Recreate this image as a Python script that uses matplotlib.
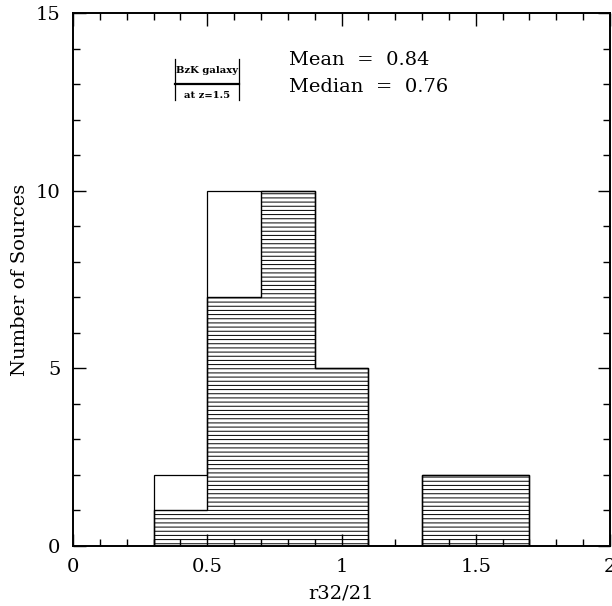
import numpy as np
import matplotlib
matplotlib.use('Agg')
import matplotlib.pyplot as plt
from matplotlib.ticker import MultipleLocator

# bin edges and counts in r32/21
edges = [0.3, 0.5, 0.7, 0.9, 1.1, 1.3, 1.5, 1.7]
all_counts = [2, 10, 10, 5, 0, 2, 2]
hatched_counts = [1, 7, 10, 5, 0, 2, 2]

mean_val = 0.84
median_val = 0.76
bzk_x = [0.38, 0.62]
bzk_y = 13.0

plt.rcParams['font.family'] = ['DejaVu Serif']
plt.rcParams['hatch.linewidth'] = 0.7

fig = plt.figure(figsize=(6.12, 6.06), dpi=100)
ax = fig.add_axes([73 / 612, 60 / 606, 537 / 612, 533 / 606])

ax.stairs(hatched_counts, edges, fill=True, facecolor='white', edgecolor='black',
          hatch='----', linewidth=1.0)
ax.stairs(all_counts, edges, color='black', linewidth=0.9)

ax.set_xlim(0, 2)
ax.set_ylim(0, 15)
ax.xaxis.set_major_locator(MultipleLocator(0.5))
ax.xaxis.set_minor_locator(MultipleLocator(0.1))
ax.yaxis.set_major_locator(MultipleLocator(5))
ax.yaxis.set_minor_locator(MultipleLocator(1))
ax.xaxis.set_major_formatter(plt.FuncFormatter(lambda v, p: f'{v:g}'))
ax.tick_params(which='both', direction='in', top=True, right=True, labelsize=14, width=1.0)
ax.tick_params(which='major', length=9)
ax.tick_params(which='minor', length=5)
ax.tick_params(axis='x', pad=9)
ax.tick_params(axis='y', pad=9)
for s in ax.spines.values():
    s.set_linewidth(1.4)

ax.set_xlabel('r32/21', fontsize=14, labelpad=6)
ax.set_ylabel('Number of Sources', fontsize=14, labelpad=5)

# BzK galaxy marker
ax.plot(bzk_x, [bzk_y, bzk_y], color='black', linewidth=1.6)
for xv in bzk_x:
    ax.plot([xv, xv], [bzk_y - 0.45, bzk_y + 0.7], color='black', linewidth=0.9)
ax.text(sum(bzk_x) / 2, bzk_y + 0.25, 'BzK galaxy', fontsize=7.2, fontweight='bold',
        ha='center', va='bottom')
ax.text(sum(bzk_x) / 2, bzk_y - 0.2, 'at z=1.5', fontsize=7.2, fontweight='bold',
        ha='center', va='top')

ax.text(0.805, 13.68, f'Mean  =  {mean_val:.2f}', fontsize=14, va='center')
ax.text(0.805, 12.93, f'Median  =  {median_val:.2f}', fontsize=14, va='center')

fig.savefig('out.png', dpi=100)
